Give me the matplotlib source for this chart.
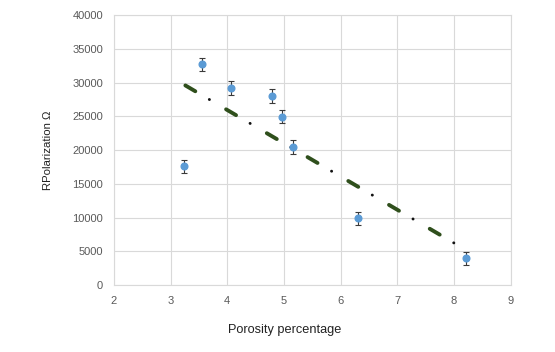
import matplotlib
matplotlib.use("Agg")
import matplotlib.pyplot as plt
import numpy as np

plt.rcParams['font.family'] = ['Liberation Sans', 'DejaVu Sans']
plt.rcParams['lines.scale_dashes'] = False

# porosity (%) and polarization resistance (ohm)
porosity = [3.23, 3.55, 4.06, 4.79, 4.96, 5.16, 6.30, 8.21]
r_pol = [17600, 32700, 29200, 28050, 24950, 20500, 9900, 3950]
r_err = [1000, 1000, 1000, 1000, 1000, 1000, 1000, 1000]

x_ticks = [2, 3, 4, 5, 6, 7, 8, 9]
y_ticks = [0, 5000, 10000, 15000, 20000, 25000, 30000, 35000, 40000]

fig = plt.figure(figsize=(5.55, 3.52), dpi=100)
ax = fig.add_axes([0.2054, 0.190, 0.7146, 0.767])

# linear trend line (like excel), drawn as green dash + black dot
slope, icpt = np.polyfit(porosity, r_pol, 1)
tx = np.array([min(porosity), max(porosity)])
ty = slope * tx + icpt
ax.plot(tx, ty, color='#2f4f1c', lw=2.8, linestyle=(32.6, (8.3, 25.7)),
        dash_capstyle='round', zorder=3)
ax.plot(tx, ty, color='#111111', lw=2.1, linestyle=(12.6, (0.1, 33.9)),
        dash_capstyle='round', zorder=3)

ax.errorbar(porosity, r_pol, yerr=r_err, fmt='o', color='#5b9bd5',
            markersize=4.8, ecolor='#3a3a3a', elinewidth=0.8, capsize=2.2,
            capthick=0.8, zorder=4)

ax.set_xlim(2, 9)
ax.set_ylim(0, 40000)
ax.set_xticks(x_ticks)
ax.set_yticks(y_ticks)
ax.grid(True, color='#d9d9d9', lw=0.8)
ax.set_axisbelow(True)
for s in ax.spines.values():
    s.set_color('#d9d9d9')
    s.set_linewidth(0.8)
ax.tick_params(length=0, labelsize=8, labelcolor='#595959', pad=8)

ax.set_xlabel('Porosity percentage', fontsize=9.2, color='#222222')
ax.xaxis.set_label_coords(0.43, -0.145)
ax.set_ylabel('RPolarization Ω', fontsize=8.2, color='#222222')
ax.yaxis.set_label_coords(-0.153, 0.5)

fig.savefig('out.png', dpi=100)
